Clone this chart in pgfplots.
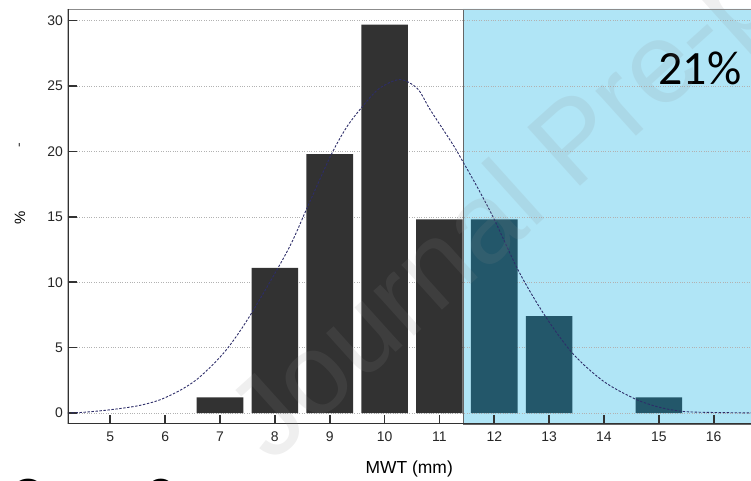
\documentclass[border=0pt]{standalone}
\usepackage{pgfplots}
\pgfplotsset{compat=1.18}
\usepackage{fontspec}
\setmainfont{Liberation Sans}
\newfontfamily\calibri{Carlito}
\definecolor{bardark}{RGB}{50,50,50}
\definecolor{barteal}{RGB}{35,87,106}
\definecolor{bluereg}{RGB}{176,229,246}
\definecolor{curvec}{RGB}{45,45,105}
\definecolor{wm}{RGB}{140,140,140}
\begin{document}
\begin{tikzpicture}
\begin{axis}[
  set layers,
  scale only axis,
  width=683.5bp, height=415bp,
  xmin=4.22, xmax=16.68, ymin=-0.84, ymax=30.89,
  axis line style={draw=none},
  xtick={5,6,...,16}, ytick={0,5,...,30},
  xtick pos=lower, ytick pos=left,
  tick align=inside,
  major tick length=9bp,
  tick style={line width=1.6bp, color=bardark},
  ymajorgrids,
  grid style={dotted, line width=0.5bp, color=black!30},
  /pgf/number format/assume math mode=true,
  tick label style={font=\fontsize{14}{16}\selectfont, text=black!85},
  xticklabel style={yshift=-4bp},
  yticklabel style={xshift=-1bp},
  xlabel={MWT (mm)},
  xlabel style={at={(rel axis cs:0.5,0)}, anchor=base, yshift=-49bp, font=\fontsize{17.5}{19}\selectfont},
  ylabel={\%},
  ylabel style={at={(rel axis cs:0,0.496)}, anchor=center, yshift=47.5bp, font=\fontsize{15}{17}\selectfont},
]
% shaded region
\addplot[on layer=axis background, fill=bluereg, draw=black!60, line width=0.8bp]
  coordinates {(11.43,-0.84) (11.43,30.89) (16.68,30.89) (16.68,-0.84) (11.43,-0.84)};
% bars outside region
\addplot[ybar, bar width=0.85, bar shift=0pt, fill=bardark, draw=none]
  coordinates {(7,1.2) (8,11.1) (9,19.8) (10,29.7) (11,14.8)};
% bars inside region
\addplot[ybar, bar width=0.85, bar shift=0pt, fill=barteal, draw=none]
  coordinates {(12,14.8) (13,7.4) (15,1.2)};
% fitted curve
\addplot[smooth, tension=0.5, curvec, line width=0.9bp, dash pattern=on 2.4bp off 1.6bp]
  coordinates {(4.22,0.0) (4.5,0.05) (5,0.25) (5.5,0.55) (5.9,1.0) (6.3,1.8) (6.63,2.75)
  (7.09,4.7) (7.54,7.4) (8.23,12.4) (8.6,15.8) (9.01,19.6) (9.3,21.8) (9.59,23.4)
  (9.9,24.8) (10.28,25.5) (10.6,24.8) (10.83,23.2) (11.25,20.5) (11.43,19.2)
  (11.7,17.2) (12.0,14.8) (12.45,10.8) (12.93,7.4) (13.44,4.5) (14.0,2.4)
  (14.57,1.07) (15.0,0.45) (15.44,0.12) (16.0,0.04) (16.68,0.01)};
% axis frame
\draw[line width=0.8bp, black!45] (rel axis cs:0,1) -- (rel axis cs:1,1);
\draw[line width=2.4bp, bardark] (rel axis cs:0,1) -- (rel axis cs:0,0) -- (rel axis cs:1,0);
\node[anchor=base east, inner sep=0pt, font=\calibri\fontsize{48}{48}\selectfont]
  at (rel axis cs:0.986,0.819) {21\%};
\end{axis}
\node[rotate=90, font=\fontsize{14}{16}\selectfont, text=black!80] at (-46.5bp,279bp) {-};
% watermark
\node[anchor=base west, inner sep=0pt, rotate=42, text=wm, opacity=0.14,
  font=\fontsize{115}{115}\selectfont] at (203.5bp,-41bp) {Journal Pre-proof};
% partially visible caption at bottom
\node[anchor=base west, inner sep=0pt, font=\calibri\fontsize{64}{64}\selectfont]
  at (-59bp,-96bp) {Case 2};
\pgfresetboundingbox
\path[use as bounding box] (-67.5bp,-57bp) rectangle (683.5bp,424bp);
\end{tikzpicture}
\end{document}
